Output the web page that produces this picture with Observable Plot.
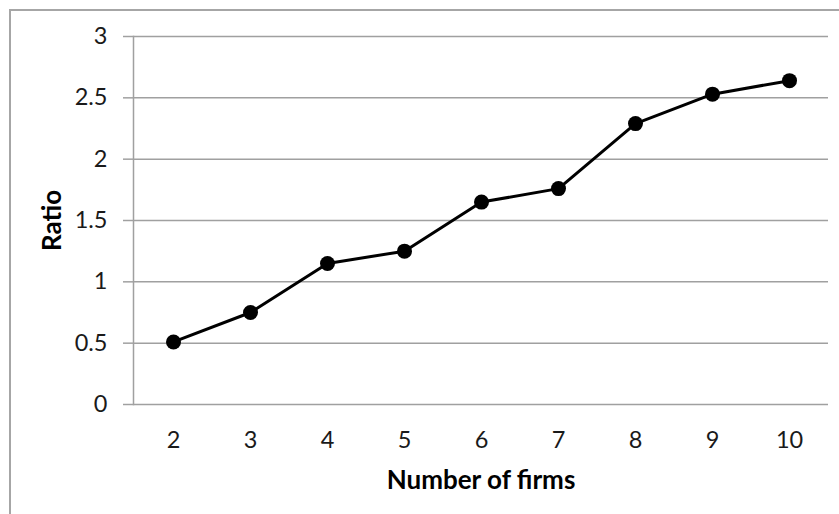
<!DOCTYPE html>
<html>
<head>
<meta charset="utf-8">
<script src="https://cdn.jsdelivr.net/npm/d3@7"></script>
<script src="https://cdn.jsdelivr.net/npm/@observablehq/plot@0.6"></script>
<style>
  html, body { margin: 0; padding: 0; background: #fff; }
  #wrap { position: relative; width: 839px; height: 514px; overflow: hidden; }
  #border { position: absolute; left: 9px; top: 9px; width: 900px; height: 600px;
            border-left: 2px solid #a6a6a6; border-top: 2px solid #a6a6a6; pointer-events: none; }
  svg { font-family: Lato, "Open Sans", sans-serif; }
</style>
</head>
<body>
<div id="wrap"><div id="border"></div></div>
<script>
const firms = ["2", "3", "4", "5", "6", "7", "8", "9", "10"];
const ratio = [0.51, 0.75, 1.15, 1.25, 1.65, 1.76, 2.29, 2.53, 2.64];
const yTicks = [0, 0.5, 1, 1.5, 2, 2.5, 3];
const yTickLabels = ["0", "0.5", "1", "1.5", "2", "2.5", "3"];
const xTitle = "Number of firms";
const yTitle = "Ratio";

const data = firms.map((f, i) => ({firms: f, ratio: ratio[i]}));

const chart = Plot.plot({
  width: 839,
  height: 514,
  marginLeft: 133,
  marginRight: 11,
  marginTop: 36,
  marginBottom: 110,
  style: {fontFamily: "Lato, 'Open Sans', sans-serif", fontSize: "23.5px", color: "#1a1a1a", background: "transparent"},
  x: {type: "point", domain: firms, padding: 0.5, align: 0.5},
  y: {domain: [0, 3]},
  marks: [
    Plot.gridY(yTicks.filter(d => d > 0), {stroke: "#a0a0a0", strokeOpacity: 1, strokeWidth: 1.5}),
    Plot.frame({anchor: "left", stroke: "#a0a0a0", strokeWidth: 1.5}),
    Plot.ruleY([0], {stroke: "#a0a0a0", strokeWidth: 1.5}),
    Plot.axisY({ticks: yTicks, tickFormat: (d) => yTickLabels[yTicks.indexOf(d)], tickSize: 10, tickPadding: 16,
                stroke: "#a0a0a0", strokeWidth: 1.5, fontSize: 23.5, fill: "#1a1a1a", label: null}),
    Plot.axisX({tickSize: 0, tickPadding: 27, fontSize: 23.5, fill: "#1a1a1a", label: null}),
    Plot.line(data, {x: "firms", y: "ratio", stroke: "#000", strokeWidth: 3}),
    Plot.dot(data, {x: "firms", y: "ratio", r: 7.5, fill: "#000", stroke: "none"}),
    Plot.text([xTitle], {frameAnchor: "bottom", dy: 76, text: d => d, fontWeight: "bold", fontSize: 26, fill: "#000", textAnchor: "middle", lineAnchor: "middle"}),
    Plot.text([yTitle], {frameAnchor: "left", dx: -81, rotate: -90, text: d => d, fontWeight: "bold", fontSize: 26, fill: "#000", textAnchor: "middle", lineAnchor: "middle"})
  ]
});
document.getElementById("wrap").prepend(chart);
</script>
</body>
</html>
